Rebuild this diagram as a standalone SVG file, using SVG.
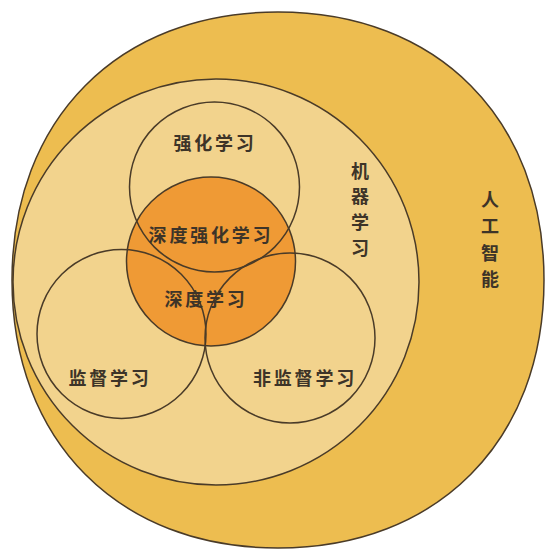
<svg xmlns="http://www.w3.org/2000/svg" width="545" height="549" viewBox="0 0 545 549">
  <style>
    .ln { fill: none; stroke: #4a3b28; stroke-width: 1.5; }
    .lbl { font-family: "Noto Sans CJK SC", "Noto Sans", sans-serif; font-weight: bold; font-size: 18px; fill: #3d3428; dominant-baseline: central; }
    .h { text-anchor: middle; letter-spacing: 2.8px; }
    .v { text-anchor: middle; }
  </style>
  <rect width="545" height="549" fill="#ffffff"/>
  <g id="ai">
    <path d="M 544,280 C 544,440.8 437.6,548 278,548 C 118.4,548 12,440.8 12,280 C 12,119.2 118.4,12 278,12 C 437.6,12 544,119.2 544,280 Z" fill="#EDBD50" stroke="#4a3b28" stroke-width="1.5"/>
    <text class="lbl v"><tspan x="490" y="198">人</tspan><tspan x="490" y="225">工</tspan><tspan x="490" y="252">智</tspan><tspan x="490" y="278">能</tspan></text>
  </g>
  <g id="ml">
    <circle cx="216" cy="282" r="203" fill="#F2D38D" stroke="#4a3b28" stroke-width="1.5"/>
    <text class="lbl v"><tspan x="360" y="170">机</tspan><tspan x="360" y="195">器</tspan><tspan x="360" y="221">学</tspan><tspan x="360" y="247">习</tspan></text>
  </g>
  <g id="dl">
    <circle cx="211" cy="261.5" r="84.5" fill="#EF9A35"/>
  </g>
  <g id="outlines">
    <circle class="ln" cx="211" cy="261.5" r="84.5"/>
    <circle class="ln" cx="214.5" cy="187" r="85"/>
    <circle class="ln" cx="121.5" cy="334" r="84.5"/>
    <circle class="ln" cx="290" cy="338" r="85"/>
  </g>
  <g id="rl"><text class="lbl h" x="215" y="142">强化学习</text></g>
  <g id="drl"><text class="lbl h" x="211" y="234">深度强化学习</text></g>
  <g id="dl-label"><text class="lbl h" x="206" y="298">深度学习</text></g>
  <g id="sl"><text class="lbl h" x="110" y="377">监督学习</text></g>
  <g id="ul"><text class="lbl h" x="305" y="377">非监督学习</text></g>
</svg>
